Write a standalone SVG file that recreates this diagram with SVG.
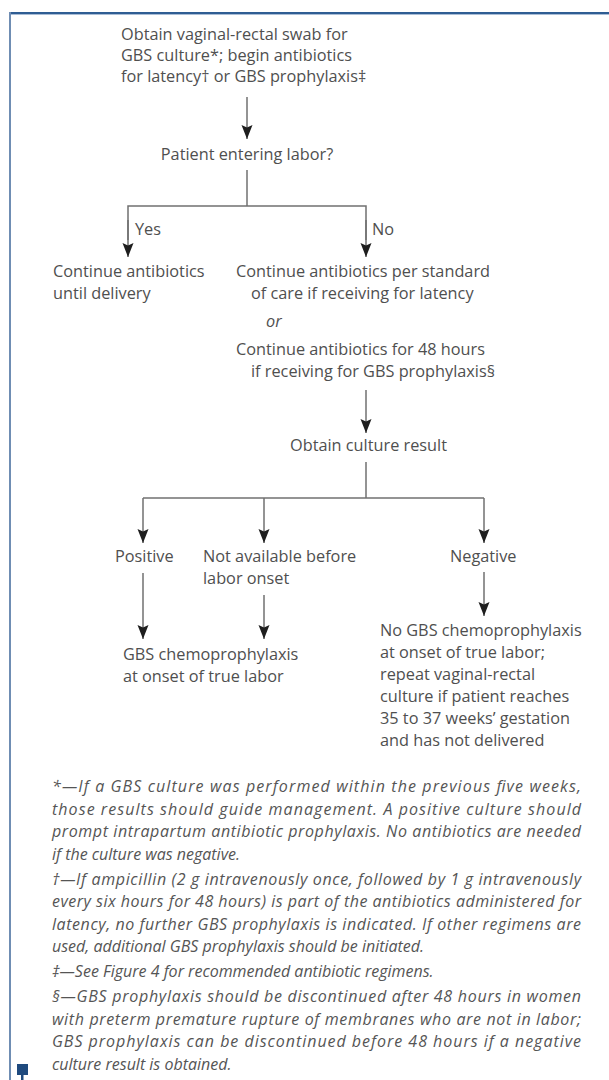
<svg xmlns="http://www.w3.org/2000/svg" width="609" height="1080" viewBox="0 0 609 1080">
  <style>
    .t { font-family: "Open Sans", "Liberation Sans", sans-serif; font-size: 16.3px; fill: #4f4f4f; }
    .it { font-style: italic; }
    .fn { font-family: "Open Sans", "Liberation Sans", sans-serif; font-size: 16px; font-style: italic; fill: #555555; }
    .ln { stroke: #707070; stroke-width: 1.5; fill: none; }
    .ar { stroke: #707070; stroke-width: 1.5; fill: none; marker-end: url(#head); }
  </style>
  <defs>
    <!-- arrowhead drawn along +x, rotated onto each line by orient="auto" -->
    <marker id="head" markerUnits="userSpaceOnUse" markerWidth="15" markerHeight="12" viewBox="0 0 15 12" refX="14" refY="6" orient="auto">
      <path d="M0,0.5 L2.5,6 L0,11.5 L14,6 Z" fill="#1e1e1e"/>
    </marker>
  </defs>

  <rect width="609" height="1080" fill="#ffffff"/>

  <!-- frame -->
  <g id="frame">
    <line x1="9" y1="13" x2="609" y2="13" stroke="#2f5d93" stroke-width="2"/>
    <line x1="9" y1="14.5" x2="609" y2="14.5" stroke="#a9bdd6" stroke-width="1"/>
    <line x1="10" y1="12" x2="10" y2="1080" stroke="#6f8db3" stroke-width="2"/>
    <rect x="17" y="1064" width="11" height="11" fill="#1f4a7e"/>
    <rect x="21" y="1075" width="2.5" height="5" fill="#1f4a7e"/>
  </g>

  <!-- connectors -->
  <g id="connectors">
    <line class="ar" x1="247" y1="97" x2="247" y2="139"/>
    <polyline class="ln" points="247,170 247,206"/>
    <polyline class="ln" points="128,240 128,206 366,206 366,240"/>
    <line class="ar" x1="128" y1="220" x2="128" y2="257"/>
    <line class="ar" x1="366" y1="220" x2="366" y2="257"/>
    <line class="ar" x1="366" y1="390" x2="366" y2="433"/>
    <polyline class="ln" points="366,462 366,498"/>
    <polyline class="ln" points="143,498 484,498"/>
    <line class="ar" x1="143" y1="498" x2="143" y2="543"/>
    <line class="ar" x1="264" y1="498" x2="264" y2="543"/>
    <line class="ar" x1="484" y1="498" x2="484" y2="543"/>
    <line class="ar" x1="143" y1="573" x2="143" y2="639"/>
    <line class="ar" x1="264" y1="595" x2="264" y2="639"/>
    <line class="ar" x1="484" y1="572" x2="484" y2="616"/>
  </g>

  <g id="start">
    <text class="t" x="121" y="40">Obtain vaginal-rectal swab for</text>
    <text class="t" x="121" y="61">GBS culture*; begin antibiotics</text>
    <text class="t" x="121" y="82">for latency† or GBS prophylaxis‡</text>
  </g>

  <g id="labor-question">
    <text class="t" x="247" y="160" text-anchor="middle">Patient entering labor?</text>
  </g>

  <g id="label-yes"><text class="t" x="135" y="235">Yes</text></g>
  <g id="label-no"><text class="t" x="372" y="235">No</text></g>

  <g id="continue-until-delivery">
    <text class="t" x="53" y="277">Continue antibiotics</text>
    <text class="t" x="53" y="299">until delivery</text>
  </g>

  <g id="continue-options">
    <text class="t" x="236" y="277">Continue antibiotics per standard</text>
    <text class="t" x="251" y="299">of care if receiving for latency</text>
    <text class="t it" x="266" y="327">or</text>
    <text class="t" x="236" y="355">Continue antibiotics for 48 hours</text>
    <text class="t" x="251" y="377">if receiving for GBS prophylaxis§</text>
  </g>

  <g id="culture-result">
    <text class="t" x="290" y="451">Obtain culture result</text>
  </g>

  <g id="positive"><text class="t" x="115" y="562">Positive</text></g>
  <g id="not-available">
    <text class="t" x="203" y="562">Not available before</text>
    <text class="t" x="203" y="584">labor onset</text>
  </g>
  <g id="negative"><text class="t" x="450" y="562">Negative</text></g>

  <g id="chemoprophylaxis">
    <text class="t" x="123" y="660">GBS chemoprophylaxis</text>
    <text class="t" x="123" y="682">at onset of true labor</text>
  </g>

  <g id="no-chemoprophylaxis">
    <text class="t" x="380" y="636">No GBS chemoprophylaxis</text>
    <text class="t" x="380" y="658">at onset of true labor;</text>
    <text class="t" x="380" y="680">repeat vaginal-rectal</text>
    <text class="t" x="380" y="702">culture if patient reaches</text>
    <text class="t" x="380" y="724">35 to 37 weeks’ gestation</text>
    <text class="t" x="380" y="746">and has not delivered</text>
  </g>

  <!-- footnotes: justified lines stretched to the column width -->
  <g id="footnotes">
    <text class="fn" x="52" y="792" textLength="529" lengthAdjust="spacing">*—If a GBS culture was performed within the previous five weeks,</text>
    <text class="fn" x="52" y="814.5" textLength="529" lengthAdjust="spacing">those results should guide management. A positive culture should</text>
    <text class="fn" x="52" y="837" textLength="529" lengthAdjust="spacing">prompt intrapartum antibiotic prophylaxis. No antibiotics are needed</text>
    <text class="fn" x="52" y="859.5">if the culture was negative.</text>
    <text class="fn" x="52" y="884.5" textLength="529" lengthAdjust="spacing">†—If ampicillin (2 g intravenously once, followed by 1 g intravenously</text>
    <text class="fn" x="52" y="907" textLength="529" lengthAdjust="spacing">every six hours for 48 hours) is part of the antibiotics administered for</text>
    <text class="fn" x="52" y="929.5" textLength="529" lengthAdjust="spacing">latency, no further GBS prophylaxis is indicated. If other regimens are</text>
    <text class="fn" x="52" y="952">used, additional GBS prophylaxis should be initiated.</text>
    <text class="fn" x="52" y="977">‡—See Figure 4 for recommended antibiotic regimens.</text>
    <text class="fn" x="52" y="1002" textLength="529" lengthAdjust="spacing">§—GBS prophylaxis should be discontinued after 48 hours in women</text>
    <text class="fn" x="52" y="1024.5" textLength="529" lengthAdjust="spacing">with preterm premature rupture of membranes who are not in labor;</text>
    <text class="fn" x="52" y="1047" textLength="529" lengthAdjust="spacing">GBS prophylaxis can be discontinued before 48 hours if a negative</text>
    <text class="fn" x="52" y="1069.5">culture result is obtained.</text>
  </g>
</svg>
